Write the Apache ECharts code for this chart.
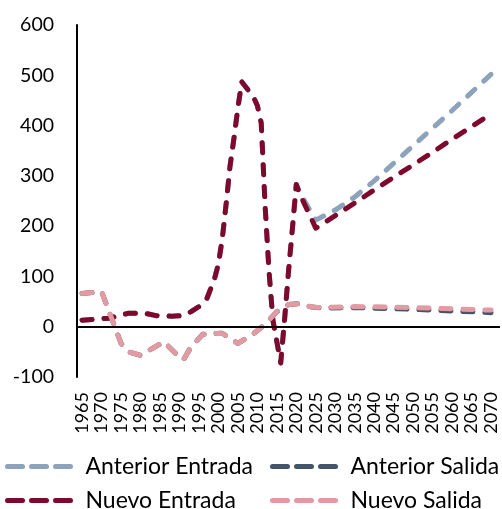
<!DOCTYPE html>
<html><head><meta charset="utf-8">
<script src="https://cdn.jsdelivr.net/npm/echarts@6/dist/echarts.min.js"></script>
<style>html,body{margin:0;padding:0;background:#fff}#c{width:502px;height:509px}</style>
</head><body><div id="c"></div>
<script>
const tickYears = [1965,1970,1975,1980,1985,1990,1995,2000,2005,2010,2015,2020,2025,2030,2035,2040,2045,2050,2055,2060,2065,2070];
const yTicks = [-100, 0, 100, 200, 300, 400, 500, 600];

const entradaYears = [1965,1972,1977,1981,1984,1988,1991,1993,1995,1997,1999,2000,2001,2002,2003,2004,2005,2006,2009,2010,2011,2012,2013,2014,2016,2017,2018,2019,2020,2021,2025,2030,2035,2040,2045,2050,2055,2060,2065,2070];
const nuevoEntrada = [13,17,27,27,22,21,22,30,40,55,95,125,175,245,320,375,435,487,457,440,405,240,110,13,-72,15,110,195,283,262,196,221,246,272,297,322,347,373,398,423];
const anteriorEntrada = [13,17,27,27,22,21,22,30,40,55,95,125,175,245,320,375,435,487,457,440,405,240,110,13,-72,15,110,195,283,265,212,232,258,290,325,360,395,430,466,502];

const salidaYears = [1965,1970,1975,1977,1980,1982,1986,1989,1991,1993,1996,2001,2005,2009,2012,2015,2018,2021,2024,2027,2035,2045,2055,2070];
const nuevoSalida = [66,70,-33,-50,-57,-48,-30,-53,-66,-40,-15,-13,-33,-14,5,30,44,46,39,38,40,39,37,33];
const anteriorSalida = [66,70,-33,-50,-57,-48,-30,-53,-66,-40,-15,-13,-33,-14,5,30,44,46,39,37,38,36,33,28];

const seriesNames = ['Anterior Entrada','Anterior Salida','Nuevo Entrada','Nuevo Salida'];
const seriesColors = ['#8DA2BB','#44546A','#7D0A2D','#E29AA3'];

const pair = (xs, ys) => xs.map((x, i) => [x, ys[i]]);
const FONT = 'Lato';
const dash = [10, 12];

function lineSeries(idx, data, extra) {
  return Object.assign({
    name: seriesNames[idx],
    type: 'line',
    data: data,
    symbol: 'none',
    showSymbol: false,
    smooth: false,
    color: seriesColors[idx],
    lineStyle: { color: seriesColors[idx], width: 5, type: dash, cap: 'round', join: 'round' },
    emphasis: { disabled: true },
    animation: false
  }, extra || {});
}

function legendFor(idx, left, top) {
  return {
    data: [seriesNames[idx]],
    left: left, top: top, padding: 0,
    itemWidth: 65, itemHeight: 14,
    itemStyle: { opacity: 0, color: 'transparent', borderColor: 'transparent', borderWidth: 0 },
    lineStyle: { width: 5, type: [15, 9], cap: 'round', color: seriesColors[idx], opacity: 1 },
    textStyle: { fontFamily: FONT, fontSize: 23, color: '#000', padding: [0, 0, 0, 8], lineHeight: 22 },
    selectedMode: false
  };
}

const chart = echarts.init(document.getElementById('c'), null, { renderer: 'canvas' });
chart.setOption({
  animation: false,
  backgroundColor: '#fff',
  textStyle: { fontFamily: FONT },
  grid: { left: 77, right: 2, top: 25, bottom: 132 },
  legend: [
    legendFor(0, 5, 455),
    legendFor(1, 270, 455),
    legendFor(2, 5, 489),
    legendFor(3, 270, 489)
  ],
  xAxis: {
    type: 'value',
    min: 1963.7, max: 2072.3,
    axisLine: { show: false },
    axisTick: { show: false },
    splitLine: { show: false },
    axisLabel: {
      customValues: tickYears,
      hideOverlap: false,
      rotate: 90, fontSize: 18, color: '#000', fontFamily: FONT, margin: 15,
      formatter: v => String(v)
    }
  },
  yAxis: {
    type: 'value',
    min: yTicks[0], max: yTicks[yTicks.length - 1], interval: 100,
    axisLine: { show: true, lineStyle: { color: '#000', width: 2 } },
    axisTick: { show: false },
    splitLine: { show: false },
    axisLabel: { fontSize: 19.5, color: '#000', fontFamily: FONT, margin: 23 }
  },
  series: [
    lineSeries(0, pair(entradaYears, anteriorEntrada), {
      markLine: {
        silent: true, symbol: ['none', 'none'], label: { show: false },
        lineStyle: { color: '#000', width: 2, type: 'solid' },
        data: [{ yAxis: 0 }]
      }
    }),
    lineSeries(1, pair(salidaYears, anteriorSalida)),
    lineSeries(2, pair(entradaYears, nuevoEntrada)),
    lineSeries(3, pair(salidaYears, nuevoSalida))
  ]
});
</script>
</body></html>
